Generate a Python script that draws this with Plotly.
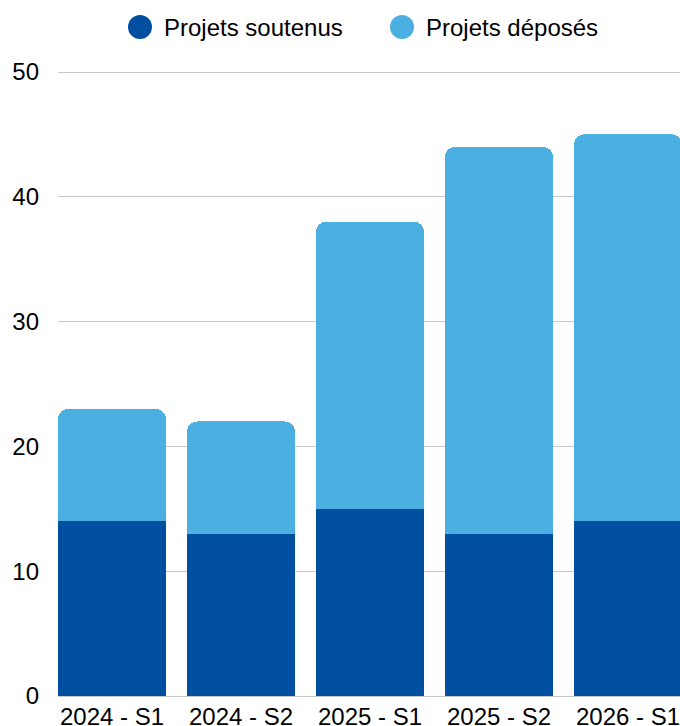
import plotly.graph_objects as go

categories = ["2024 - S1", "2024 - S2", "2025 - S1", "2025 - S2", "2026 - S1"]
soutenus = [14, 13, 15, 13, 14]
deposes = [9, 9, 23, 31, 31]
series_names = ["Projets soutenus", "Projets déposés"]
y_ticks = [0, 10, 20, 30, 40, 50]

colors = ["#004FA0", "#4CAFE2"]
FONT = "Liberation Sans, Arial, Helvetica, sans-serif"

W, H = 680, 726
HEADROOM_PX = 3  # plotly drops gridlines within 1px of the plot edge
ML, MR, MT, MB = 58, 0, 72 - HEADROOM_PX, 30
PW, PH = W - ML - MR, H - MT - MB
PX_PER_UNIT = 12.48
Y_TOP = y_ticks[-1] + HEADROOM_PX / PX_PER_UNIT

fig = go.Figure()
for vals, name, col in zip([soutenus, deposes], series_names, colors):
    fig.add_bar(x=categories, y=vals, name=name, marker_color=col,
                marker_line_width=0, showlegend=False, hoverinfo="skip")

fig.update_layout(
    barmode="stack", bargap=0.163, barcornerradius=10,
    width=W, height=H,
    margin=dict(l=ML, r=MR, t=MT, b=MB, pad=0, autoexpand=False),
    plot_bgcolor="white", paper_bgcolor="white",
    font=dict(family=FONT, size=24, color="black"),
)
fig.update_xaxes(range=[-0.4186, 4.403], showgrid=False, showline=False,
                 zeroline=False, ticks="", ticklabelstandoff=4, automargin=False)
fig.update_yaxes(range=[0, Y_TOP], tickvals=y_ticks, showgrid=True,
                 gridcolor="#c8c8c8", gridwidth=1, zeroline=True,
                 zerolinecolor="#c8c8c8", zerolinewidth=1, showline=False,
                 ticks="", ticklabelstandoff=18, automargin=False)

# manual legend (large circular markers), positions in window pixels
def px_x(px):
    return (px - ML) / PW

def px_y(py):
    return (H - MB - py) / PH

legend_circle_x = [140, 402]
legend_text_x = [162, 424]
legend_y = 27
for name, col, cx, tx in zip(series_names, colors, legend_circle_x, legend_text_x):
    fig.add_shape(type="circle", xref="paper", yref="paper",
                  xsizemode="pixel", ysizemode="pixel",
                  xanchor=px_x(cx), yanchor=px_y(legend_y),
                  x0=-12, x1=12, y0=-12, y1=12,
                  fillcolor=col, line_width=0)
    fig.add_annotation(x=px_x(tx), y=px_y(legend_y), xref="paper", yref="paper",
                       text=name, showarrow=False, xanchor="left", yanchor="middle",
                       font=dict(family=FONT, size=24, color="black"))

fig.write_html(
    "out.html",
    config={"displayModeBar": False},
    post_script="document.body.style.margin='0';document.body.style.overflow='hidden';",
)
